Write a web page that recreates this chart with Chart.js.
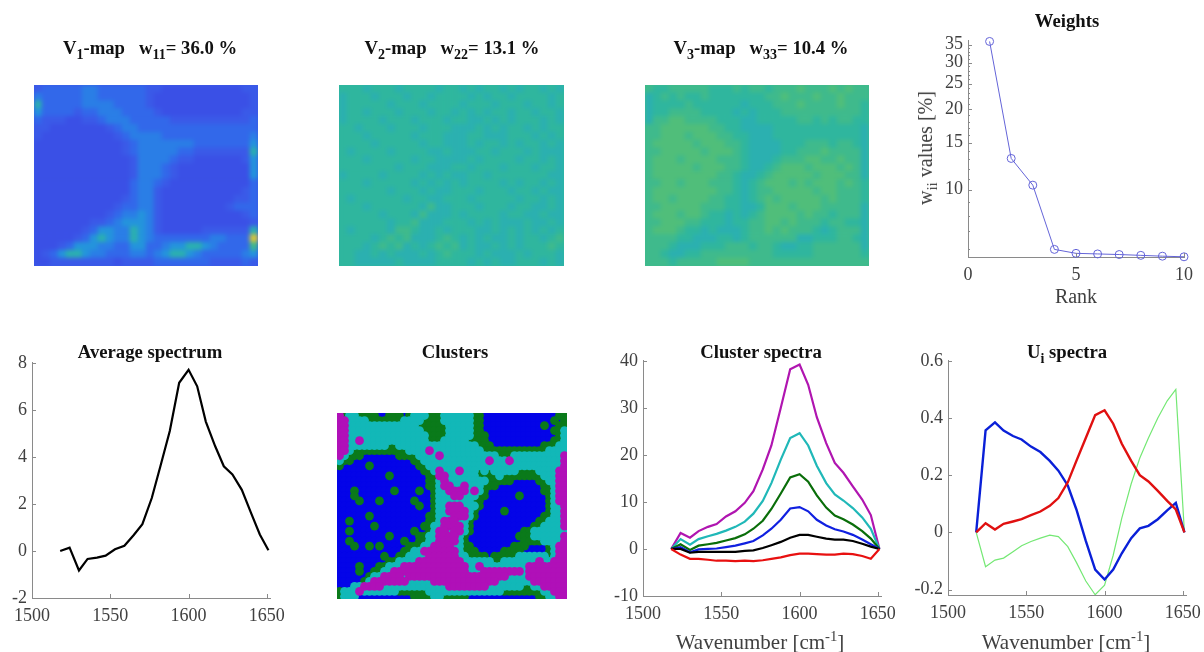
<!DOCTYPE html>
<html>
<head>
<meta charset="utf-8">
<script src="https://cdn.jsdelivr.net/npm/chart.js@4"></script>
<style>
  html, body { margin: 0; padding: 0; background: #fff; width: 1204px; height: 652px; overflow: hidden; }
  #page { position: absolute; left: 0; top: 0; width: 1204px; height: 652px; overflow: hidden; filter: blur(0.45px); }
  canvas { position: absolute; }
  .title, .axis { position: absolute; white-space: pre; font-family: "Liberation Serif", serif; transform: translate(-50%, -50%); line-height: 1; }
  .title { font-weight: bold; font-size: 18.7px; color: #111; }
  .axis { font-size: 20px; color: #404040; }
  .wave { font-size: 21px; }
  sub { font-size: 75%; vertical-align: -0.35em; line-height: 0; }
  sup { font-size: 70%; vertical-align: 0.5em; line-height: 0; }
  .map { position: absolute; overflow: hidden; }
  .map canvas { left: 0; top: 0; filter: blur(2px); }
</style>
</head>
<body>
<div id="page"></div>
<script>
// wavenumbers shared by all the spectra
const wavenumbers = [1518,1524,1530,1535.5,1541.5,1547,1553,1559,1565,1570.5,1576.5,1582,1588,1594,1600,1605.5,1611,1617,1622.5,1628,1634,1640,1645.5,1651]
const spectrumTicks = [1500,1550,1600,1650]

const average = [0,0.14,-0.83,-0.34,-0.28,-0.2,0.07,0.22,0.68,1.14,2.25,3.6,5.1,7.15,7.7,7.0,5.5,4.45,3.6,3.25,2.6,1.6,0.7,0.03]
const averageTicks = [-2,0,2,4,6,8]

const clusterPurple = [0,3.4,2.4,3.8,4.7,5.3,6.9,8,9.8,12.3,16.9,22,30,38.2,39.2,34.9,28,22.5,18.3,16.2,13.3,10.5,7.2,0]
const clusterCyan = [0,2.1,0.9,2.1,2.7,3.2,3.9,4.7,5.8,7.5,10.2,14,19,23.6,24.6,22,17.7,14,11.6,10.3,8.7,6.7,4.3,0]
const clusterGreen = [0,1,-0.2,0.7,1,1.3,1.8,2.3,3.1,4.3,6,8.5,11.8,15.2,15.9,14.3,11.4,8.8,7.1,6.3,5.2,3.8,2.2,0]
const clusterBlue = [0,0.4,-0.7,-0.1,0,0.1,0.4,0.7,1.2,1.7,2.9,4.3,6.2,8.6,8.9,8,6.2,5,4.2,3.7,3,2,1,0]
const clusterBlack = [0,0,-0.8,-0.6,-0.6,-0.6,-0.6,-0.6,-0.4,-0.3,0.2,0.8,1.5,2.4,3,3,2.6,2.2,2,2,1.7,1.1,0.5,0]
const clusterRed = [0,-1.2,-2.1,-2.1,-2.3,-2.5,-2.5,-2.6,-2.5,-2.6,-2.4,-2.1,-1.8,-1.3,-1,-1,-1.1,-1.2,-1.2,-1,-1.1,-1.5,-2.1,0]
const clusterTicks = [-10,0,10,20,30,40]

const u1 = [0,0.357,0.385,0.356,0.337,0.325,0.3,0.281,0.25,0.216,0.164,0.08,-0.03,-0.13,-0.165,-0.13,-0.073,-0.02,0.014,0.023,0.046,0.077,0.103,0]
const u2 = [0,0.032,0.01,0.03,0.038,0.046,0.06,0.073,0.093,0.12,0.175,0.25,0.33,0.41,0.427,0.38,0.31,0.25,0.2,0.178,0.145,0.11,0.08,0]
const u3 = [0,-0.12,-0.097,-0.09,-0.068,-0.047,-0.032,-0.02,-0.01,-0.015,-0.05,-0.105,-0.17,-0.218,-0.185,-0.08,0.05,0.17,0.26,0.33,0.4,0.46,0.5,0]
const uTicks = [-0.2,0,0.2,0.4,0.6]

const ranks = [1,2,3,4,5,6,7,8,9,10]
const weights = [36,13.1,10.4,5.97,5.77,5.74,5.71,5.67,5.63,5.6]
const weightLabels = [10,15,20,25,30,35]
const weightMinor = [6,7,8,9,11,12,13,14,16,17,18,19,21,22,23,24,26,27,28,29,31,32,33,34]
const rankTicks = [0,5,10]

// map levels, one digit per cell
const v1Rows = [
  '1222223322222211000000000011','3222223322222210000000000001','5222223333222210000000000001','4222212233322221000000000011',
  '2111001123332222211111111112','1100000001233222222222222222','1000000000123333222222222223','0000000000012333333322222224',
  '0000000000012333332211111115','0000000000001333321100000014','0000000000001333210000000004','0000000000001333210000000004',
  '0000000000002332100000000002','0000000000002331000000000012','0000000000012331000000000112','0000000000122331000000001222',
  '0000000001233431000000000012','0000000112344431000000000001','0000001244335431000001111115','0000012454335432222222332229',
  '0001244433224422344554322227','0124554332223323455432222234','0011111111011112222222111121'
]
const v2Rows = [
  '6665666566665665656656566565','5666566656656666565665666656','5666665666566665666566656656','5665666566656656565665665665',
  '5666656665666566556565666565','6656665666566655565656656566','6665666665666555665556665656','6666566666566555656656566565',
  '6566665666655655566566656555','6665666665665555656666566565','6666666566655566566656665665','5666656666565655665666666655',
  '6665666665656565666656566565','6666665666565566656665665655','6566666656655666566666566565','6665666666575566656665665565',
  '6666656665755565666656655655','6666665667555666565655565565','6566665776556566655656565656','6666567675556765656556566567',
  '6665676756567675655656566676','6655656555656766656555656665','6655555655556666565655666565'
]
const v3Rows = [
  '7667777766676776777877787877','5676766766666667787778778777','5666676666665666777877778776','5667777666656566677777777776',
  '5778877776665566666776767766','7788888877665555666666666665','7788878887766555666666666665','7888887888776555566677767765',
  '7788888788876555566777877775','7888788887776555677788778775','7888887888776556788878887875','7888888887765567888887888775',
  '7788788877765678887878887876','7888888887765677888887887776','7887888877665678788888787776','7788888777665568887888777775',
  '7888788766565678888787767775','7788877666566778878777677665','7888766565556778787776567775','7777665556656777777556667765',
  '7776555666777677655667777775','7765566777777777666667777776','7776777778888777777777777777'
]

// cluster label per cell: B blue, G green, C cyan, M magenta
const clusterRows = [
  'MGCCGGGGBBGGGBGCCCGGGCCCCCCGGBBBBBBBBBBBBBBBGG',
  'MMCCCCGGGGGGGCCCCGGGGCCCCCCGGBBBBBBBBBBBBBBGBG',
  'MMCCCCCCCCCCCCCCGGGGGGCCCCCGGBBBBBBBBBBBBGBBGG',
  'MMCCCCCCCCCCCCCCCGGGGGCCCCCGGBBBBBBBBBBBBBBGGC',
  'MMCCCCCCCCCCCCCCCCGGGGCCCCCGGGBBBBBBBBBBBBBBGC',
  'MMCCMCCCCCCCCCCCCCGGGCCCCCGGGGBBBBBBBBBBBBBGGC',
  'MMCCCCCCCCGGCCCCCCCCCCCCCCCCGGGBBBBBBBBBBGGGCC',
  'MMCGGGGGGGGGGGCCCCMCCCCCCCCCCGGGGGGGGGGGGGCCCC',
  'MCGGGBBBBBBBGGGGCCCCMCCCCCCCCCCCGGGCCCCCCCCCCM',
  'CGGBBBBBBBBBBBBGGCCCCCCCCCCCCCMCCCMCCCCCCCCCCM',
  'GBBBBBGBBBBBBBBBGGCCCCCCCCCCCCCCCCCCCCCCCCCCCM',
  'BBBBBBBBBBBBBBBBBGGCMCCCMCCCGCGCCCCCGGGGCCCCMM',
  'BBBBBBBBBBGBBBBBBBGGMMCCCCCCGGGGCGGGGGGGGCCCMM',
  'BBBBBBBBBBBBBBBBBBGGCMCCCCCCCCGGGGGBBBBBGGCCMM',
  'BBBBBBBBBBBBBBBBBBGGCMMCCMCCCGGGBBBBBBBBBGGCMM',
  'BBBGBBBBBBBGBBBBGBBGCCMMMMCMCGBBBBBBBBBBBGGCMM',
  'BBBGBBBBBBBBBBBBBBBGCCCMMCCCGGBBBBBBGBBBBBGCMM',
  'BBBBGBBBGBBBBBBGBBBGCCCCCCCGGBBBBBBBBBBBBBGCMM',
  'BBBBBBBBBBBBBBBBGBBGCCMMMCCCGBBBBBBBBBBBBBGCCM',
  'BBBBBBBBBBBBBBBBBBBGCCMMMMCGBBBBBGBBBBBBBBGCCM',
  'BBBBBBGBBBBBBBBBBBGGCCCMMMCGBBBBBBBBBBBBBGGCCM',
  'BBGBBBBBBBBBBBBBBBGGCMMMCCGBBBBBBBBBBBBBGGCCCM',
  'BBBBBBBGBBBBBBBBBGGCCMMMMCGBBBBBBBBBBBBGGCCCCM',
  'BBGBBBBBBBBBBBBGBBGCMMCMMCGBBBBBBBBBBGGCCCCCCC',
  'BBBBBBBBBBGBBBBBGGCCMMMMCGBBBBBBBBBBGGGCCCCCCM',
  'BBGBBBBBBBBBBGBBGGCCMMMMCGBBBBBBBBBBBGGGGCCCCM',
  'BBBGBBGBGBBBBBGGGCCMMMMCCGGBBBBBBBBGGGBBBBGCMM',
  'BBBBBBBBBBBBBGGCCMMMMMMMCGGGBBBBBGGGGBBBBBGCMM',
  'BBBBBBBBBGBBGGCCCCMMMMMMCCGGGGBGGGGGCCCCCCGCMM',
  'BBBBBBBBBBGGCCCCMMMMMMMMMCCCCCCGGCCCCCCCMCCMMM',
  'BBBBGBBBGGCCCMMMMMMMMMMMMMCCMCCCCCCCCCMMMMMMMM',
  'BBBBGBBGGCCMMMMMMMMMMMMMMMCCCMMMMMMMMCMMMMMMMM',
  'BBBBBBGCCMMMMCMMMMMMMMMMMMMMMMMMMMCCCCMMMMMMMM',
  'BBBBBGCMMMMMMMCCCCCMMMMMMMMMMMMMCCCCCCCMMMMMMM',
  'BBBCCMMMMCCCCCCCCCCCCCMMMMMMMMCCCCCCCGGCCMMMMM',
  'GCCCMCCCCCCCGGGGGGCCCCCCCCCCCCCCCGGGGGGGGCCMMM',
  'GCCCBBBBBBBBBBBGGGGCCGGGGGBBBBBBBBBBBBBBGGCCMM'
]

const page = document.getElementById('page')
const serif = '"Liberation Serif", serif'
const tickColor = '#404040'
const axisColor = '#8a8a8a'
const levelColors = ['#3a50e6','#3a5ae8','#3268ea','#2a7ee6','#2494dc','#2bb0b0','#2fb69e','#3fba8c','#50be7a','#d8c838']
const clusterColors = { B: '#0404e8', G: '#0a7a1a', C: '#12b8b8', M: '#b010b8' }

// short inward ticks, like the original figure
const inwardTicks = {
  id: 'inwardTicks',
  afterDatasetsDraw(chart) {
    const { ctx, scales: { x, y } } = chart
    ctx.save()
    ctx.strokeStyle = axisColor
    ctx.lineWidth = 1
    ctx.beginPath()
    x.ticks.forEach(t => {
      const px = Math.round(x.getPixelForValue(t.value)) + 0.5
      ctx.moveTo(px, x.top); ctx.lineTo(px, x.top - 4)
    })
    y.ticks.forEach(t => {
      const py = Math.round(y.getPixelForValue(t.value)) + 0.5
      ctx.moveTo(y.right, py); ctx.lineTo(y.right + (t.label === '' ? 2 : 4), py)
    })
    ctx.stroke()
    ctx.restore()
  }
}

function addText(cls, html, x, y, rotate) {
  const d = document.createElement('div')
  d.className = cls
  d.innerHTML = html
  d.style.left = x + 'px'
  d.style.top = y + 'px'
  if (rotate) d.style.transform = 'translate(-50%, -50%) rotate(-90deg)'
  page.appendChild(d)
}

function line(data, color, width) {
  return { data: data.map((v, i) => ({ x: wavenumbers[i], y: v })), borderColor: color, borderWidth: width, pointRadius: 0, tension: 0 }
}

function scaleOpts(extra, ticks, fit) {
  return Object.assign({
    type: 'linear',
    grid: { display: false, drawTicks: false },
    border: { display: true, color: axisColor, width: 1 },
    afterBuildTicks: s => { s.ticks = ticks.map(v => ({ value: v })) },
    afterFit: fit
  }, extra)
}

// plot is the inner rectangle of the axes on the page
function axesChart(plot, datasets, xOpts, yOpts) {
  const left = 44, top = 14, right = 32, bottom = 36
  const c = document.createElement('canvas')
  c.width = plot.w + left + right
  c.height = plot.h + top + bottom
  c.style.left = (plot.l - left) + 'px'
  c.style.top = (plot.t - top) + 'px'
  page.appendChild(c)
  const tickFont = { family: serif, size: 18 }
  xOpts.ticks = Object.assign({ font: tickFont, color: tickColor, padding: 7, autoSkip: false, maxRotation: 0, callback: v => String(v) }, xOpts.ticks)
  yOpts.ticks = Object.assign({ font: tickFont, color: tickColor, padding: 5, autoSkip: false }, yOpts.ticks)
  new Chart(c, {
    type: 'scatter',
    data: { datasets },
    options: {
      responsive: false, animation: false, events: [],
      layout: { autoPadding: false, padding: { top, right, left: 0, bottom: 0 } },
      plugins: { legend: { display: false }, tooltip: { enabled: false } },
      datasets: { scatter: { showLine: true } },
      scales: { x: xOpts, y: yOpts }
    },
    plugins: [inwardTicks]
  })
}

// cells are drawn as square points on hidden axes
function cellChart(plot, cols, rows, datasets, under) {
  const box = document.createElement('div')
  box.className = 'map'
  box.style.left = plot.l + 'px'
  box.style.top = plot.t + 'px'
  box.style.width = plot.w + 'px'
  box.style.height = plot.h + 'px'
  box.style.background = under
  page.appendChild(box)
  const c = document.createElement('canvas')
  c.width = plot.w
  c.height = plot.h
  box.appendChild(c)
  new Chart(c, {
    type: 'scatter',
    data: { datasets },
    options: {
      responsive: false, animation: false, events: [],
      layout: { autoPadding: false },
      plugins: { legend: { display: false }, tooltip: { enabled: false } },
      scales: {
        x: { display: false, min: -0.5, max: cols - 0.5 },
        y: { display: false, min: -0.5, max: rows - 0.5, reverse: true }
      }
    }
  })
  return c
}

function levelMap(plot, rowsData, under) {
  const rows = rowsData.length, cols = rowsData[0].length
  const pts = [], colors = []
  rowsData.forEach((row, r) => row.split('').forEach((ch, k) => {
    pts.push({ x: k, y: r })
    colors.push(levelColors[+ch])
  }))
  const side = Math.max(plot.w / cols, plot.h / rows)
  cellChart(plot, cols, rows, [{
    data: pts, pointStyle: 'rect', pointRadius: side * 0.76, pointBorderWidth: 0, pointBackgroundColor: colors, clip: false
  }], under)
}

function clusterMap(plot, rowsData) {
  const rows = rowsData.length, cols = rowsData[0].length
  // first dataset ends up on top
  const datasets = ['M', 'C', 'G', 'B'].map(label => {
    const pts = []
    rowsData.forEach((row, r) => row.split('').forEach((ch, k) => {
      if (ch === label) pts.push({ x: k, y: r })
    }))
    return { data: pts, pointRadius: 4.4, pointBorderWidth: 0, pointBackgroundColor: clusterColors[label] }
  })
  const c = cellChart(plot, cols, rows, datasets, clusterColors.B)
  c.style.filter = 'blur(0.4px)'
}

// top row maps
levelMap({ l: 34, t: 85, w: 224, h: 181 }, v1Rows, levelColors[1])
levelMap({ l: 339, t: 85, w: 225, h: 181 }, v2Rows, levelColors[6])
levelMap({ l: 645, t: 85, w: 224, h: 181 }, v3Rows, levelColors[7])
addText('title', 'V<sub>1</sub>-map   w<sub>11</sub>= 36.0 %', 150, 48)
addText('title', 'V<sub>2</sub>-map   w<sub>22</sub>= 13.1 %', 452, 48)
addText('title', 'V<sub>3</sub>-map   w<sub>33</sub>= 10.4 %', 761, 48)

// weights
axesChart({ l: 968, t: 39, w: 216, h: 218 },
  [{ data: ranks.map((r, i) => ({ x: r, y: weights[i] })), borderColor: '#6464d8', borderWidth: 1, pointRadius: 4, pointBackgroundColor: 'rgba(0,0,0,0)', pointBorderColor: '#6464d8', pointBorderWidth: 1, tension: 0, clip: false }],
  scaleOpts({ min: 0, max: 10 }, rankTicks, s => { s.height = 36 }),
  scaleOpts({ type: 'logarithmic', min: 5.59, max: 36.2, ticks: { callback: v => weightLabels.includes(v) ? String(v) : '' } },
    weightLabels.concat(weightMinor).sort((a, b) => a - b), s => { s.width = 44 }))
addText('title', 'Weights', 1067, 21)
addText('axis', 'Rank', 1076, 296)
addText('axis', 'w<sub>ii</sub> values [%]', 925, 148, true)

// average spectrum
axesChart({ l: 32, t: 361, w: 238, h: 237 },
  [line(average, '#000', 2.2)],
  scaleOpts({ min: 1500, max: 1652 }, spectrumTicks, s => { s.height = 36 }),
  scaleOpts({ min: -2, max: 8 }, averageTicks, s => { s.width = 44 }))
addText('title', 'Average spectrum', 150, 352)

// clusters
clusterMap({ l: 337, t: 413, w: 230, h: 186 }, clusterRows)
addText('title', 'Clusters', 455, 352)

// cluster spectra
axesChart({ l: 643, t: 359, w: 238, h: 237 },
  [line(clusterRed, '#e81010', 2.2), line(clusterBlack, '#000', 2.2), line(clusterBlue, '#1020e0', 2.2),
   line(clusterGreen, '#0a6e0a', 2.2), line(clusterCyan, '#20b8b8', 2.2), line(clusterPurple, '#b015b0', 2.2)],
  scaleOpts({ min: 1500, max: 1652 }, spectrumTicks, s => { s.height = 36 }),
  scaleOpts({ min: -10, max: 40 }, clusterTicks, s => { s.width = 44 }))
addText('title', 'Cluster spectra', 761, 352)
addText('axis wave', 'Wavenumber [cm<sup>-1</sup>]', 760, 642)

// U spectra, the red one sits on top
axesChart({ l: 948, t: 359, w: 238, h: 236 },
  [line(u2, '#e01010', 2.4), line(u1, '#0a20d8', 2.4), line(u3, '#74e874', 1.2)],
  scaleOpts({ min: 1500, max: 1652 }, spectrumTicks, s => { s.height = 36 }),
  scaleOpts({ min: -0.219, max: 0.6, ticks: { callback: v => String(v) } }, uTicks, s => { s.width = 44 }))
addText('title', 'U<sub>i</sub> spectra', 1067, 352)
addText('axis wave', 'Wavenumber [cm<sup>-1</sup>]', 1066, 642)
</script>
</body>
</html>
